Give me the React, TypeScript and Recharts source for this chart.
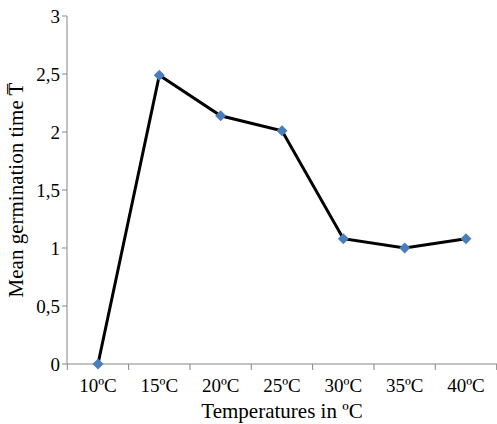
import React from "react";
import { Line, LineChart, XAxis, YAxis } from "recharts";

const temperatures = ["10ºC", "15ºC", "20ºC", "25ºC", "30ºC", "35ºC", "40ºC"];
const meanTime = [0, 2.49, 2.14, 2.01, 1.08, 1.0, 1.08];
const yTicks = [0, 0.5, 1, 1.5, 2, 2.5, 3];

const data = temperatures.map((t, i) => ({ t, v: meanTime[i] }));
const FONT = "Liberation Serif";
const HALF = 30.7;

const XTick = (props: any) => {
  const { x, y, payload, index } = props;
  return (
    <g>
      <line x1={x - HALF} x2={x - HALF} y1={y - 8} y2={y - 2} stroke="#868686" />
      {index === temperatures.length - 1 && (
        <line x1={x + HALF} x2={x + HALF} y1={y - 8} y2={y - 2} stroke="#868686" />
      )}
      <text x={x} y={y + 20} textAnchor="middle" fontSize={19} fontFamily={FONT} fill="#000">
        {payload.value}
      </text>
    </g>
  );
};

const Diamond = (props: any) => {
  const { cx, cy } = props;
  const s = 5.5;
  return (
    <path
      d={`M${cx},${cy - s}L${cx + s},${cy}L${cx},${cy + s}L${cx - s},${cy}Z`}
      fill="#4A7EBB"
    />
  );
};

export default function App() {
  return (
    <div style={{ position: "absolute", left: 0, top: 0 }}>
      <LineChart width={497} height={424} data={data} margin={{ top: 16, right: 0, bottom: 0, left: 0 }}>
        <XAxis
          dataKey="t"
          height={60}
          padding={{ left: 31, right: 31 }}
          stroke="#868686"
          tickLine={false}
          tick={<XTick />}
          label={{ value: "Temperatures in ºC", position: "insideBottom", offset: 6, fontSize: 21, fontFamily: FONT, fill: "#000" }}
        />
        <YAxis
          width={67}
          domain={[0, 3]}
          ticks={yTicks}
          stroke="#868686"
          tickSize={5}
          tickFormatter={(v: number) => String(v).replace(".", ",")}
          tick={{ fontSize: 19, fontFamily: FONT, fill: "#000" }}
          label={{ value: "Mean germination time T̅", angle: -90, position: "insideLeft", offset: 16, textAnchor: "middle", fontSize: 21, fontFamily: FONT, fill: "#000" }}
        />
        <Line
          dataKey="v"
          stroke="#000"
          strokeWidth={3}
          dot={<Diamond />}
          activeDot={false}
          isAnimationActive={false}
        />
      </LineChart>
    </div>
  );
}
